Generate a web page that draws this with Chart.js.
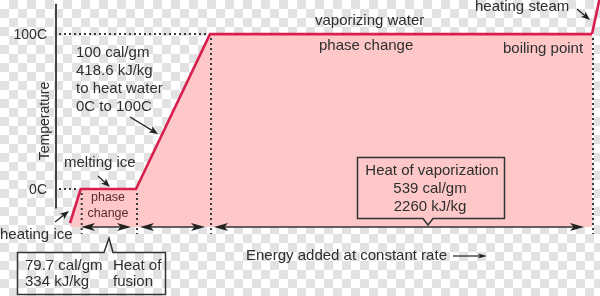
<!DOCTYPE html>
<html>
<head>
<meta charset="utf-8">
<script src="https://cdn.jsdelivr.net/npm/chart.js@4.4.1/dist/chart.umd.min.js"></script>
<style>
  html, body { margin: 0; padding: 0; }
  body {
    width: 600px; height: 296px; overflow: hidden;
    background: repeating-conic-gradient(#e2e2e2 0 25%, #ffffff 0 50%) 0 0 / 18px 18px;
  }
  canvas { display: block; }
</style>
</head>
<body>
<canvas id="c" width="600" height="296"></canvas>
<script>
// ---- data (schematic energy units vs temperature in C) ----
const energy = [70, 80.7, 136, 210, 592];
const temperature = [-22, 0, 0, 100, 100];
const steamEnergy = [592, 600];
const steamTemperature = [100, 124];
const phaseBounds = [80.7, 136, 210, 592];
const tickValues = [0, 100];
const tickLabels = ['0C', '100C'];
const axisEnergy = 56;
const baseTemperature = -24.5;

const RED = '#d81f4e';
const PINK = '#fec8c8';
const INK = '#2e2e2e';
const FONT = '"Liberation Sans", Arial, Helvetica, sans-serif';

function pts(xs, ys) { return xs.map((x, i) => ({ x: x, y: ys[i] })); }

function head(ctx, x, y, ang, len, hw) {
  ctx.save();
  ctx.translate(x, y);
  ctx.rotate(ang);
  ctx.beginPath();
  ctx.moveTo(0, 0);
  ctx.lineTo(-len, -hw);
  ctx.lineTo(-len * 0.75, 0);
  ctx.lineTo(-len, hw);
  ctx.closePath();
  ctx.fill();
  ctx.restore();
}
function pointer(ctx, x1, y1, x2, y2) {
  ctx.save();
  ctx.strokeStyle = '#222'; ctx.fillStyle = '#222'; ctx.lineWidth = 1.3;
  const a = Math.atan2(y2 - y1, x2 - x1);
  ctx.beginPath(); ctx.moveTo(x1, y1);
  ctx.lineTo(x2 - Math.cos(a) * 5, y2 - Math.sin(a) * 5); ctx.stroke();
  head(ctx, x2, y2, a, 9, 3.5);
  ctx.restore();
}
function doubleArrow(ctx, x1, x2, y) {
  ctx.save();
  ctx.strokeStyle = '#333'; ctx.fillStyle = '#222'; ctx.lineWidth = 1.5;
  ctx.beginPath(); ctx.moveTo(x1 + 6, y); ctx.lineTo(x2 - 6, y); ctx.stroke();
  head(ctx, x2, y, 0, 14, 4);
  head(ctx, x1, y, Math.PI, 14, 4);
  ctx.restore();
}
function text(ctx, s, x, y, opt) {
  opt = opt || {};
  ctx.save();
  ctx.font = (opt.size || 15) + 'px ' + FONT;
  ctx.fillStyle = opt.color || INK;
  ctx.textAlign = opt.align || 'left';
  ctx.textBaseline = 'middle';
  ctx.fillText(s, x, y);
  ctx.restore();
}

const annotations = {
  id: 'annotations',
  afterDatasetsDraw(chart) {
    const ctx = chart.ctx;
    const xs = chart.scales.x, ys = chart.scales.y;
    const X = v => xs.getPixelForValue(v);
    const Y = v => ys.getPixelForValue(v);

    // y axis line
    ctx.save();
    ctx.strokeStyle = '#444'; ctx.lineWidth = 2;
    ctx.beginPath(); ctx.moveTo(X(axisEnergy), Y(119.5)); ctx.lineTo(X(axisEnergy), Y(-12.5)); ctx.stroke();
    ctx.restore();

    // tick labels + dotted guides
    ctx.save();
    ctx.strokeStyle = '#3a3a3a'; ctx.lineWidth = 2; ctx.setLineDash([2, 3]);
    tickValues.forEach((t, i) => {
      const xEnd = t === 0 ? phaseBounds[0] : phaseBounds[2];
      ctx.beginPath(); ctx.moveTo(X(axisEnergy) + 3, Y(t)); ctx.lineTo(X(xEnd) - 2, Y(t)); ctx.stroke();
    });
    // vertical dotted lines at phase bounds
    phaseBounds.forEach((e, i) => {
      const t = i < 2 ? 0 : 100;
      ctx.beginPath(); ctx.moveTo(X(e) + 1, Y(t) + 4); ctx.lineTo(X(e) + 1, Y(-29)); ctx.stroke();
    });
    ctx.restore();
    tickValues.forEach((t, i) => text(ctx, tickLabels[i], 47, Y(t) + 1, { align: 'right', size: 14 }));

    // axis title
    ctx.save();
    ctx.translate(45, 121); ctx.rotate(-Math.PI / 2);
    text(ctx, 'Temperature', 0, 0, { align: 'center', size: 14 });
    ctx.restore();

    // double arrows along base
    const yb = Y(baseTemperature);
    doubleArrow(ctx, 81, 131, yb);
    doubleArrow(ctx, 140, 205, yb);
    doubleArrow(ctx, 214, 584, yb);

    // upper-left annotation
    ['100 cal/gm', '418.6 kJ/kg', 'to heat water', '0C to 100C'].forEach((s, i) =>
      text(ctx, s, 76, 53 + i * 18));
    pointer(ctx, 130, 117, 158, 134);

    text(ctx, 'melting ice', 64, 163);
    pointer(ctx, 98, 176, 110, 187);
    text(ctx, 'phase', 108, 198, { align: 'center', size: 12.5, color: '#5a2a2e' });
    text(ctx, 'change', 108, 214, { align: 'center', size: 12.5, color: '#5a2a2e' });

    text(ctx, 'heating ice', 0, 235);
    pointer(ctx, 55, 222, 69, 211);

    // fusion box
    ctx.save();
    ctx.strokeStyle = '#333'; ctx.lineWidth = 1.5;
    ctx.beginPath();
    ctx.moveTo(104, 252.5); ctx.lineTo(17.5, 252.5); ctx.lineTo(17.5, 294.5); ctx.lineTo(165.5, 294.5);
    ctx.lineTo(165.5, 252.5); ctx.lineTo(113, 252.5); ctx.lineTo(109, 238); ctx.closePath();
    ctx.stroke();
    ctx.restore();
    text(ctx, '79.7 cal/gm', 25, 266);
    text(ctx, '334 kJ/kg', 25, 282);
    text(ctx, 'Heat of', 113, 266);
    text(ctx, 'fusion', 113, 282);

    // top texts
    text(ctx, 'vaporizing water', 315, 21);
    text(ctx, 'phase change', 319, 46);
    text(ctx, 'heating steam', 475, 7);
    pointer(ctx, 577, 9, 590, 20);
    text(ctx, 'boiling point', 503, 49);

    // vaporization box
    ctx.save();
    ctx.strokeStyle = '#333'; ctx.lineWidth = 1.5;
    ctx.beginPath();
    ctx.moveTo(357.5, 157.5); ctx.lineTo(504.5, 157.5); ctx.lineTo(504.5, 218.5); ctx.lineTo(433, 218.5);
    ctx.lineTo(428, 225); ctx.lineTo(423, 218.5); ctx.lineTo(357.5, 218.5); ctx.closePath();
    ctx.stroke();
    ctx.restore();
    text(ctx, 'Heat of vaporization', 432, 171, { align: 'center' });
    text(ctx, '539 cal/gm', 430, 189, { align: 'center' });
    text(ctx, '2260 kJ/kg', 430, 207, { align: 'center' });

    // energy axis caption
    text(ctx, 'Energy added at constant rate', 246, 256);
    ctx.save();
    ctx.strokeStyle = '#222'; ctx.fillStyle = '#222'; ctx.lineWidth = 1.2;
    ctx.beginPath(); ctx.moveTo(453, 256); ctx.lineTo(480, 256); ctx.stroke();
    head(ctx, 487, 256, 0, 9, 2.5);
    ctx.restore();
  }
};

new Chart(document.getElementById('c'), {
  type: 'line',
  data: {
    datasets: [
      {
        data: pts(energy, temperature),
        borderColor: RED, borderWidth: 2.6, backgroundColor: PINK,
        fill: { value: baseTemperature },
        pointRadius: 0, tension: 0, borderJoinStyle: 'miter'
      },
      {
        data: pts(steamEnergy, steamTemperature),
        borderColor: RED, borderWidth: 2.6, fill: false,
        pointRadius: 0, tension: 0
      }
    ]
  },
  options: {
    responsive: false, animation: false, devicePixelRatio: 1,
    layout: { padding: 0 },
    plugins: { legend: { display: false }, tooltip: { enabled: false } },
    scales: {
      x: { type: 'linear', min: 0, max: 600, display: false },
      y: { type: 'linear', min: -69, max: 122, display: false }
    }
  },
  plugins: [annotations]
});
</script>
</body>
</html>
